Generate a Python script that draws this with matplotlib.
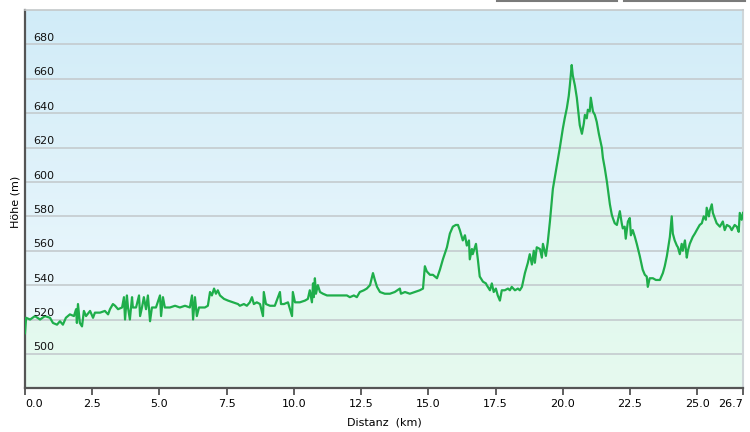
import numpy as np
import matplotlib
matplotlib.use("Agg")
import matplotlib.pyplot as plt
from matplotlib.colors import LinearSegmentedColormap
from matplotlib.lines import Line2D

# Höhenprofil (km, m)
dist = [0.00, 0.04, 0.19, 0.37, 0.56, 0.74, 0.93, 1.04, 1.19, 1.30, 1.41, 1.52,
        1.67, 1.82, 1.90, 1.93, 1.97, 2.04, 2.12, 2.19, 2.27, 2.42, 2.53, 2.60,
        2.79, 2.97, 3.09, 3.16, 3.27, 3.35, 3.46, 3.61, 3.68, 3.72, 3.79, 3.83,
        3.90, 3.98, 4.01, 4.13, 4.24, 4.28, 4.35, 4.42, 4.50, 4.57, 4.65, 4.72,
        4.87, 5.02, 5.06, 5.13, 5.20, 5.39, 5.58, 5.76, 5.95, 6.13, 6.21, 6.25,
        6.32, 6.39, 6.47, 6.69, 6.80, 6.88, 6.95, 7.03, 7.10, 7.17, 7.25, 7.40,
        7.55, 7.73, 7.92, 7.99, 8.14, 8.25, 8.36, 8.44, 8.51, 8.62, 8.74, 8.85,
        8.88, 8.96, 9.11, 9.29, 9.48, 9.52, 9.63, 9.78, 9.93, 9.96, 10.04, 10.22,
        10.41, 10.52, 10.59, 10.67, 10.71, 10.74, 10.78, 10.82, 10.89, 10.97,
        11.08, 11.23, 11.41, 11.60, 11.78, 11.97, 12.08, 12.23, 12.34, 12.45,
        12.60, 12.71, 12.83, 12.94, 13.01, 13.09, 13.20, 13.38, 13.57, 13.75,
        13.94, 13.98, 14.13, 14.31, 14.50, 14.68, 14.80, 14.87, 14.94, 15.06,
        15.17, 15.32, 15.43, 15.54, 15.69, 15.80, 15.91, 16.02, 16.10, 16.17,
        16.28, 16.36, 16.43, 16.51, 16.54, 16.62, 16.65, 16.77, 16.84, 16.91,
        17.03, 17.14, 17.17, 17.29, 17.36, 17.43, 17.51, 17.58, 17.66, 17.73,
        17.84, 17.96, 18.03, 18.10, 18.22, 18.33, 18.40, 18.48, 18.59, 18.70,
        18.77, 18.85, 18.92, 18.96, 19.03, 19.15, 19.22, 19.26, 19.37, 19.44,
        19.52, 19.63, 19.78, 19.89, 20.00, 20.07, 20.15, 20.22, 20.26, 20.33,
        20.37, 20.45, 20.52, 20.63, 20.71, 20.78, 20.82, 20.89, 20.93, 21.00,
        21.04, 21.12, 21.19, 21.26, 21.34, 21.38, 21.45, 21.49, 21.56, 21.64,
        21.71, 21.75, 21.82, 21.86, 21.93, 22.01, 22.08, 22.12, 22.19, 22.23,
        22.30, 22.34, 22.42, 22.49, 22.53, 22.60, 22.68, 22.75, 22.86, 22.97,
        23.05, 23.12, 23.16, 23.23, 23.35, 23.46, 23.61, 23.72, 23.79, 23.87,
        23.98, 24.05, 24.09, 24.16, 24.24, 24.28, 24.35, 24.42, 24.46, 24.54,
        24.61, 24.65, 24.72, 24.83, 24.91, 24.98, 25.09, 25.17, 25.24, 25.32,
        25.35, 25.43, 25.46, 25.54, 25.58, 25.65, 25.72, 25.84, 25.95, 26.02,
        26.10, 26.21, 26.28, 26.39, 26.47, 26.54, 26.58, 26.65, 26.70]

hoehe = [512, 521, 520, 522, 520, 522, 521, 518, 517, 519, 517, 521,
         523, 522, 526, 518, 529, 518, 516, 525, 522, 525, 521, 524,
         524, 525, 523, 526, 529, 528, 526, 527, 533, 520, 534, 527,
         520, 533, 527, 527, 534, 522, 527, 533, 526, 534, 519, 527,
         527, 534, 522, 533, 527, 527, 528, 527, 528, 527, 534, 520,
         533, 522, 527, 527, 528, 536, 534, 538, 535, 537, 534, 532,
         531, 530, 529, 528, 529, 528, 530, 533, 529, 530, 529, 522,
         536, 529, 528, 528, 536, 529, 529, 530, 522, 536, 530, 530,
         531, 532, 537, 530, 541, 533, 544, 535, 540, 536,
         535, 534, 534, 534, 534, 534, 533, 534, 533, 536,
         537, 538, 540, 547, 543, 539, 536, 535, 535, 536,
         538, 535, 536, 535, 536, 537, 538, 551, 548, 546,
         546, 544, 549, 555, 562, 570, 574, 575, 575, 572,
         566, 569, 563, 566, 555, 561, 558, 564, 555, 545,
         542, 541, 540, 537, 541, 536, 538, 534, 531, 537,
         537, 538, 537, 539, 537, 538, 537, 539, 547, 553,
         558, 552, 560, 553, 562, 561, 556, 564, 557, 565,
         577, 596, 610, 620, 631, 637, 643, 650, 656, 668,
         662, 656, 649, 633, 628, 634, 639, 637, 642, 641,
         649, 641, 639, 635, 628, 625, 620, 614, 608, 600,
         592, 587, 581, 579, 576, 575, 580, 583, 576, 573,
         574, 567, 577, 579, 569, 572, 568, 564, 557, 549,
         546, 545, 539, 544, 544, 543, 543, 547, 551, 557,
         568, 580, 570, 566, 563, 562, 558, 564, 560, 566,
         556, 560, 564, 568, 570, 572, 575, 576, 580, 578,
         585, 580, 583, 587, 582, 579, 576, 574, 577, 572,
         575, 574, 572, 575, 574, 571, 582, 578, 582]

xticks = [0.0, 2.5, 5.0, 7.5, 10.0, 12.5, 15.0, 17.5, 20.0, 22.5, 25.0, 26.7]
yticks = [500, 520, 540, 560, 580, 600, 620, 640, 660, 680]

fig = plt.figure(figsize=(7.5, 4.32), dpi=100)
ax = fig.add_axes([25 / 750, (432 - 388.3) / 432, 718 / 750, 378.3 / 432])

# Hintergrund-Verlauf
bg = LinearSegmentedColormap.from_list("bg", ["#f2fafd", "#d1ecf8"])
ax.imshow(np.linspace(0, 1, 256).reshape(-1, 1), cmap=bg, origin="lower",
          extent=[0, 26.7, 480, 700], aspect="auto", zorder=0)

ax.fill_between(dist, hoehe, 480, color="#dcfae4", alpha=0.55, lw=0, zorder=1)
for y in yticks:
    ax.axhline(y, color="#c4cbce", lw=1.2, zorder=2)
    ax.text(0.011, y + 2.0, str(y), transform=ax.get_yaxis_transform(),
            fontsize=8, ha="left", va="baseline", color="#111111", zorder=4)
ax.plot(dist, hoehe, color="#1fae4b", lw=1.6, zorder=3)

ax.set_xlim(0, 26.7)
ax.set_ylim(480, 700)
ax.set_yticks([])
ax.set_xticks(xticks)
ax.set_xticklabels(["%.1f" % v for v in xticks], fontsize=8)
labels = ax.get_xticklabels()
labels[0].set_ha("left")
labels[-1].set_ha("right")
ax.tick_params(axis="x", length=5, width=1.2, color="#444444", pad=3)

ax.spines["left"].set_color("#555555")
ax.spines["left"].set_linewidth(1.6)
ax.spines["bottom"].set_color("#555555")
ax.spines["bottom"].set_linewidth(1.6)
ax.spines["right"].set_color("#cfd6d9")
ax.spines["right"].set_linewidth(1.5)
ax.spines["top"].set_color("#c4c8ca")
ax.spines["top"].set_linewidth(1.2)

ax.set_xlabel("Distanz  (km)", fontsize=8, labelpad=6)
fig.text(16 / 750, 1 - 202 / 432, "Höhe (m)", rotation=90, fontsize=8,
         ha="center", va="center")

# Reste der Schaltflächen oben rechts
fig.add_artist(Line2D([497 / 750, 617 / 750], [0.998, 0.998], color="#7a7a7a", lw=1.5))
fig.add_artist(Line2D([624 / 750, 745 / 750], [0.998, 0.998], color="#7a7a7a", lw=1.5))

fig.savefig("out.png", dpi=100)
